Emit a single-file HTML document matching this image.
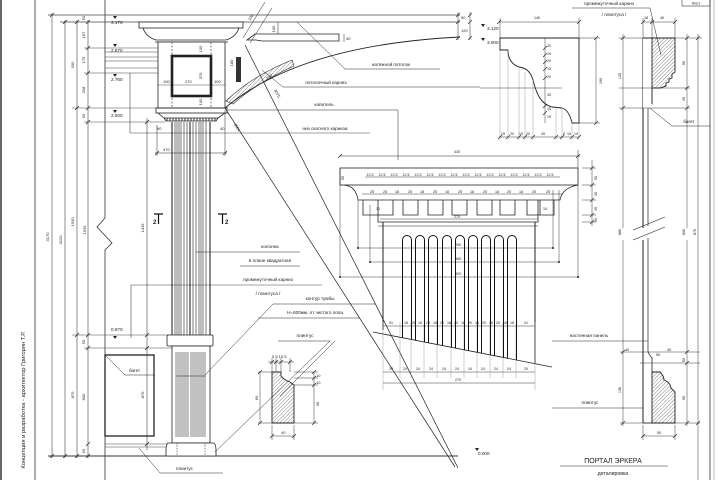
<!DOCTYPE html>
<html><head><meta charset="utf-8"><style>
html,body{margin:0;padding:0;background:#fff;}
svg{display:block;}
text{font-family:"Liberation Sans",sans-serif;fill:#222;}
.d{font-size:4px;}
.l{font-size:4.6px;}
</style></head><body>
<svg width="720" height="480" viewBox="0 0 720 480" xmlns="http://www.w3.org/2000/svg">
<defs>
<pattern id="h" width="2.6" height="2.6" patternUnits="userSpaceOnUse" patternTransform="rotate(45)">
<line x1="0" y1="0" x2="0" y2="2.6" stroke="#333" stroke-width="0.6"/></pattern>
</defs>
<rect width="720" height="480" fill="#fff"/>

<!-- FRAME -->
<g stroke="#333" fill="none">
<line x1="1" y1="0" x2="1" y2="480" stroke-width="1.5"/>
<line x1="35" y1="0" x2="35" y2="480" stroke-width="0.8"/>
<line x1="710" y1="0" x2="710" y2="480" stroke-width="0.8"/>
<line x1="714" y1="0" x2="714" y2="480" stroke="#bbb" stroke-width="1"/>
<rect x="682" y="-1" width="28" height="7" stroke-width="0.6"/>
</g>
<text x="696" y="4.5" class="d" text-anchor="middle">Лист</text>
<text transform="translate(25,400) rotate(-90)" text-anchor="middle" font-size="5.8">Концепция и разработка - архитектор Григорян Т.Р.</text>

<!-- LEFT DIMENSIONS -->
<g stroke="#444" stroke-width="0.6" fill="none">
<line x1="52" y1="13" x2="52" y2="458"/>
<line x1="65" y1="20" x2="65" y2="458"/>
<line x1="77" y1="20" x2="77" y2="458"/>
<line x1="88" y1="20" x2="88" y2="458"/>
<path d="M105,0 V218 L97,227 L112,243 L105,250 V480" stroke="#333" stroke-width="0.8"/>
<line x1="48" y1="15" x2="460" y2="15" stroke-width="0.8"/>
<line x1="60" y1="22" x2="460" y2="22" stroke-width="0.8"/>
<line x1="84" y1="48" x2="160" y2="48"/>
<line x1="105" y1="52" x2="158" y2="52"/>
<line x1="105" y1="57" x2="158" y2="57"/>
<line x1="105" y1="61" x2="158" y2="61"/>
<line x1="105" y1="68" x2="158" y2="68"/>
<line x1="84" y1="73" x2="158" y2="73"/>
<line x1="72" y1="108" x2="160" y2="108"/>
<line x1="84" y1="122" x2="165" y2="122"/>
<line x1="72" y1="335" x2="168" y2="335"/>
<line x1="84" y1="348" x2="172" y2="348"/>
<line x1="105" y1="444" x2="168" y2="444"/>
<line x1="105" y1="447" x2="168" y2="447"/>
<line x1="48" y1="456" x2="458" y2="456" stroke="#333" stroke-width="0.9"/>
<line x1="130" y1="73" x2="130" y2="133"/>
<line x1="130" y1="133" x2="370" y2="133"/>
<line x1="131" y1="285" x2="131" y2="338"/>
<line x1="131" y1="285" x2="322" y2="285"/>
<line x1="147" y1="118" x2="147" y2="450"/>
<path d="M50,17 l4,-4 M63,24 l4,-4 M75,24 l4,-4 M86,24 l4,-4 M86,50 l4,-4 M86,75 l4,-4 M75,110 l4,-4 M86,110 l4,-4 M86,124 l4,-4 M75,337 l4,-4 M86,337 l4,-4 M86,350 l4,-4 M86,446 l4,-4 M50,458 l4,-4 M63,458 l4,-4 M75,458 l4,-4 M86,458 l4,-4 M145,124 l4,-4 M145,337 l4,-4 M145,350 l4,-4 M145,446 l4,-4" stroke="#222" stroke-width="0.7"/>
</g>
<g class="d">
<text transform="translate(49,237) rotate(-90)" text-anchor="middle">3170</text>
<text transform="translate(62,240) rotate(-90)" text-anchor="middle">3120</text>
<text transform="translate(74,65) rotate(-90)" text-anchor="middle">500</text>
<text transform="translate(74,222) rotate(-90)" text-anchor="middle">1930</text>
<text transform="translate(74,395) rotate(-90)" text-anchor="middle">870</text>
<text transform="translate(85,18) rotate(-90)" text-anchor="middle">50</text>
<text transform="translate(85,35) rotate(-90)" text-anchor="middle">167</text>
<text transform="translate(85,60) rotate(-90)" text-anchor="middle">175</text>
<text transform="translate(85,90) rotate(-90)" text-anchor="middle">258</text>
<text transform="translate(85,116) rotate(-90)" text-anchor="middle">50</text>
<text transform="translate(86,230) rotate(-90)" text-anchor="middle">1535</text>
<text transform="translate(85,342) rotate(-90)" text-anchor="middle">50</text>
<text transform="translate(85,397) rotate(-90)" text-anchor="middle">800</text>
<text transform="translate(85,451) rotate(-90)" text-anchor="middle">50</text>
<text transform="translate(144,228) rotate(-90)" text-anchor="middle">1419</text>
<text transform="translate(144,395) rotate(-90)" text-anchor="middle">870</text>
</g>
<g fill="#222">
<path d="M113,16 l4,0 l-2,3 z M113,44 l4,0 l-2,3 z M113,74 l4,0 l-2,3 z M113,110 l4,0 l-2,3 z M113,336 l4,0 l-2,3 z M481,24 l4,0 l-2,3 z M481,38 l4,0 l-2,3 z M475,448 l4,0 l-2,3 z"/>
</g>
<g font-size="4.6px">
<text x="111" y="24">3.170</text>
<text x="111" y="52">2.870</text>
<text x="111" y="81">2.760</text>
<text x="111" y="117">2.500</text>
<text x="111" y="331">0.870</text>
<text x="487" y="30">3.120</text>
<text x="487" y="44">3.000</text>
<text x="478" y="455">0.000</text>
</g>

<!-- CAPITAL BLOCK -->
<g stroke="#222" stroke-width="0.8" fill="none">
<rect x="139" y="22" width="104" height="6" fill="#fff"/>
<path d="M143,28 Q146,37 156,40 L226,40 Q236,37 239,28"/>
<line x1="155" y1="42" x2="228" y2="42"/>
<rect x="158" y="42" width="67" height="66" fill="#fff"/>
<line x1="172" y1="42" x2="172" y2="108" stroke-dasharray="2,1.5" stroke-width="0.6"/>
<line x1="211" y1="42" x2="211" y2="108" stroke-dasharray="2,1.5" stroke-width="0.6"/>
<rect x="172" y="56" width="39" height="40" stroke-width="2.6"/>
<line x1="158" y1="85" x2="225" y2="85" stroke-width="0.4"/>
<rect x="156" y="108" width="71" height="5"/>
<path d="M158,113 L164,118 L218,118 L225,113"/>
<path d="M164,118 L166,121 L216,121 L218,118"/>
<path d="M167,118 v3 M170,118 v3 M173,118 v3 M176,118 v3 M179,118 v3 M182,118 v3 M185,118 v3 M188,118 v3 M191,118 v3 M194,118 v3 M197,118 v3 M200,118 v3 M203,118 v3 M206,118 v3 M209,118 v3 M212,118 v3 M215,118 v3" stroke-width="0.9"/>
<line x1="157" y1="125" x2="157" y2="156" stroke-width="0.5"/>
<line x1="225" y1="110" x2="225" y2="156" stroke-width="0.5"/>
<line x1="155" y1="153" x2="227" y2="153" stroke-width="0.5"/>
<path d="M155,155 l4,-4 M223,155 l4,-4" stroke-width="0.6"/>
<rect x="236" y="57" width="5" height="25" fill="#333" stroke="none"/>
</g>
<g class="d">
<text x="163" y="83">100</text><text x="185" y="83">270</text><text x="214" y="83">100</text>
<text transform="translate(202,49) rotate(-90)" text-anchor="middle">100</text>
<text transform="translate(202,76) rotate(-90)" text-anchor="middle">370</text>
<text transform="translate(202,102) rotate(-90)" text-anchor="middle">100</text>
<text transform="translate(233,63) rotate(-90)" text-anchor="middle">180</text>
<text x="163" y="151">470</text>
<text x="157" y="130">90</text><text x="220" y="130">40</text>
</g>

<!-- COLUMN SHAFT -->
<g stroke="#333" stroke-width="0.65">
<line x1="175" y1="122" x2="175" y2="335"/><line x1="177" y1="122" x2="177" y2="335"/>
<line x1="179" y1="122" x2="179" y2="335"/><line x1="181" y1="122" x2="181" y2="335"/>
<line x1="184" y1="122" x2="184" y2="335"/><line x1="187" y1="122" x2="187" y2="335"/>
<line x1="193" y1="122" x2="193" y2="335"/><line x1="196" y1="122" x2="196" y2="335"/>
<line x1="199" y1="122" x2="199" y2="335"/><line x1="201" y1="122" x2="201" y2="335"/>
<line x1="203" y1="122" x2="203" y2="335"/><line x1="206" y1="122" x2="206" y2="335"/>
</g>
<g stroke="#111" stroke-width="1">
<line x1="172" y1="122" x2="172" y2="335"/>
<line x1="190" y1="122" x2="190" y2="335"/>
<line x1="210" y1="122" x2="210" y2="335"/>
</g>
<g stroke="#111" stroke-width="1.2"><path d="M154,214 h9 M158.5,214 v10 M218,214 h9 M222.5,214 v10"/></g>
<text x="153" y="224" font-size="6" font-weight="bold">2</text>
<text x="225" y="224" font-size="6" font-weight="bold">2</text>

<!-- intermediate cornice + pedestal -->
<g stroke="#222" stroke-width="0.8" fill="#fff">
<rect x="167" y="335" width="46" height="11" rx="1.5"/>
<rect x="172" y="346" width="38" height="97"/>
<path d="M168,443 Q166,445 166,450 L166,456 L216,456 L216,450 Q216,445 214,443 Z"/>
</g>
<g stroke="#333" stroke-width="0.6">
<path d="M176,352 V437 M178,352 V437 M180,352 V437 M182,352 V437 M184,352 V437 M186,352 V437 M188,352 V437 M191,352 V437 M193,352 V437 M195,352 V437 M197,352 V437 M199,352 V437 M201,352 V437 M203,352 V437 M205,352 V437"/>
<path d="M176,376 H206" stroke="#222"/>
<path d="M177,443 V456 M205,443 V456" stroke-dasharray="1.5,1"/>
</g>
<g stroke="#222" fill="none">
<rect x="105" y="355" width="49" height="81" stroke-width="1.3"/>
<path d="M105,355 L125,375 H155" stroke-width="0.5"/>
<path d="M139,448 L160,473 H223" stroke-width="0.5"/>
</g>
<text x="129" y="372" class="l">багет</text>
<text x="176" y="470" class="l">плинтус</text>

<!-- ARC & ceiling -->
<g stroke="#222" fill="none">
<path d="M225,108 Q300,45 460,37" stroke-width="0.9"/>
<path d="M226,101 Q252,76 292,60 L294,66 Q258,82 233,104 Z" fill="url(#h)" stroke-width="0.6"/>
<path d="M247,40 L255,34 H339 V41 H262 L256,40 Z" stroke-width="0.8"/>
<line x1="278" y1="22" x2="278" y2="34" stroke-width="0.5"/>
<line x1="458" y1="12" x2="458" y2="40" stroke-width="0.5"/>
<line x1="470" y1="12" x2="470" y2="40" stroke-width="0.5"/>
<path d="M456,17 l4,-4 M456,24 l4,-4 M456,40 l4,-4 M468,17 l4,-4 M468,24 l4,-4 M468,40 l4,-4" stroke-width="0.6"/>
<line x1="344" y1="34" x2="344" y2="42" stroke-width="0.5"/>
<line x1="243" y1="38" x2="265" y2="2" stroke-width="0.5"/>
<line x1="250" y1="43" x2="272" y2="8" stroke-width="0.5"/>
<line x1="225" y1="108" x2="455" y2="467" stroke-width="0.7"/>
<line x1="245" y1="45" x2="458" y2="468" stroke-width="0.7"/>
<path d="M297,22 L345,69 H440" stroke-width="0.5"/>
<path d="M262,70 L283,87 H480" stroke-width="0.5"/>
<path d="M228,110 H398 V160" stroke-width="0.5"/>
<path d="M196,252 H300" stroke-width="0.5"/>
<path d="M240,266 H300" stroke-width="0.5"/>
<path d="M205,375 L273,304 H375" stroke-width="0.5"/>
<path d="M258,318 H360" stroke-width="0.5"/>
<path d="M215,452 L330,341 H278" stroke-width="0.5"/>
<path d="M280,396 L335,341" stroke-width="0.5"/>
</g>
<g class="d">
<text transform="translate(275,29) rotate(-90)" text-anchor="middle">100</text>
<text x="461" y="19">50</text><text x="461" y="32">120</text>
<text x="346" y="40">30</text>
<text transform="translate(252,18) rotate(-58)" text-anchor="middle">100</text>
<text transform="translate(236,128) rotate(57)" text-anchor="middle">4501</text>
<text transform="translate(276,94) rotate(62)" text-anchor="middle">3075</text>
<text transform="translate(270,78) rotate(-38)" text-anchor="middle">220</text>
</g>
<g class="l" text-anchor="middle">
<text x="391" y="66">натяжной потолок</text>
<text x="326" y="84">потолочный карниз</text>
<text x="324" y="106">капитель</text>
<text x="325" y="130">низ скатного карниза</text>
<text x="270" y="248">колонна</text>
<text x="270" y="262">в плане квадратная</text>
<text x="268" y="281">промежуточный карниз</text>
<text x="268" y="295">/ плинтуса /</text>
<text x="320" y="300">контур тумбы</text>
<text x="315" y="314">Н=600мм. от чистого пола</text>
<text x="305" y="337">плинтус</text>
</g>

<!-- PLINTH DETAIL -->
<g stroke="#222" fill="none">
<path d="M272,372 H281 V376 Q284,380 290,382 L294,385 V423 H272 Z" fill="url(#h)" stroke-width="0.9"/>
<path d="M260,372 V423 M258,372 H272 M258,423 H272 M314,372 V423 M294,372 H318 M294,378 H318 M294,385 H318 M294,423 H318 M272,436 H294 M272,425 V440 M294,425 V440 M268,362 H294 M272,358 V372 M276,358 V372 M281,358 V372 M290,358 V372" stroke-width="0.45"/>
<path d="M258,374 l4,-4 M258,425 l4,-4 M312,374 l4,-4 M312,380 l4,-4 M312,387 l4,-4 M312,425 l4,-4 M270,438 l4,-4 M292,438 l4,-4 M270,364 l4,-4 M274,364 l4,-4 M279,364 l4,-4 M288,364 l4,-4" stroke-width="0.6"/>
</g>
<g class="d">
<text transform="translate(258,398) rotate(-90)" text-anchor="middle">60</text>
<text x="281" y="434">40</text>
<text x="272" y="358">5 5 15 5</text>
<text x="316" y="377">10</text><text x="316" y="384">10</text>
<text transform="translate(319,404) rotate(-90)" text-anchor="middle">40</text>
</g>

<!-- ENTABLATURE DETAIL -->
<g stroke="#222" fill="none" stroke-width="0.8">
<line x1="340" y1="156" x2="580" y2="156" stroke-width="0.5"/>
<path d="M338,158 l4,-4 M576,158 l4,-4" stroke-width="0.6"/>
<line x1="578" y1="150" x2="578" y2="168" stroke-width="0.5"/>
<rect x="340" y="168" width="238" height="17" fill="#fff"/>
<path d="M344,185 Q356,186 358,200 H560 Q562,188 578,185"/>
<path d="M363,200 V215 H393 V200 M403,200 V215 H418 V200 M428,200 V215 H443 V200 M452,200 V215 H467 V200 M477,200 V215 H492 V200 M500,200 V215 H515 V200 M527,200 V215 H554 V200 M540,200 V215"/>
<path d="M378,200 V222 H538 V200" />
<line x1="378" y1="226" x2="538" y2="226" stroke-width="0.5"/>
<line x1="383" y1="222" x2="383" y2="330" stroke-width="1"/>
<line x1="535" y1="222" x2="535" y2="364" stroke-width="1"/>
<line x1="373" y1="332" x2="552" y2="367" stroke-width="0.8"/>
<path d="M340,168 V278 M358,200 V248 M370,205 V262 M553,190 V248 M559,190 V262 M578,185 V278 M358,248 H553 M370,262 H559 M340,277 H578" stroke-width="0.45"/>
<path d="M592,160 V226 M582,168 H596 M582,185 H596 M582,200 H596 M582,215 H596 M582,222 H596" stroke-width="0.45"/>
<path d="M590,170 l4,-4 M590,187 l4,-4 M590,202 l4,-4 M590,217 l4,-4 M590,224 l4,-4" stroke-width="0.6"/>
<path d="M365,177 H560 M362,194 H562 M380,219 H538 M383,326 H535 M383,372 H535 M383,383 H535" stroke-width="0.45"/>
<path d="M383,322 V390 M400,322 V378 M411,322 V378 M424,322 V378 M437,322 V378 M451,322 V378 M464,322 V378 M477,322 V378 M490,322 V378 M503,322 V378 M516,322 V378 M535,322 V390" stroke="#888" stroke-width="0.4"/>
</g>
<g fill="#222">
<circle cx="553" cy="248" r="1"/><circle cx="559" cy="262" r="1"/><circle cx="578" cy="277" r="1"/><circle cx="340" cy="277" r="1"/><circle cx="358" cy="248" r="1"/><circle cx="370" cy="262" r="1"/>
</g>
<g stroke="#111" stroke-width="1" fill="none">
<path d="M402.5,337.8 V240 A4.5,4.5 0 0 1 411.5,240 V339.5"/>
<path d="M415.5,340.3 V240 A4.5,4.5 0 0 1 424.5,240 V342.1"/>
<path d="M428.5,342.9 V240 A4.5,4.5 0 0 1 437.5,240 V344.6"/>
<path d="M442.5,345.6 V240 A4.5,4.5 0 0 1 451.5,240 V347.3"/>
<path d="M455.5,348.1 V240 A4.5,4.5 0 0 1 464.5,240 V349.9"/>
<path d="M468.5,350.7 V240 A4.5,4.5 0 0 1 477.5,240 V352.4"/>
<path d="M481.5,353.2 V240 A4.5,4.5 0 0 1 490.5,240 V355.0"/>
<path d="M494.5,355.8 V240 A4.5,4.5 0 0 1 503.5,240 V357.5"/>
<path d="M507.5,358.3 V240 A4.5,4.5 0 0 1 516.5,240 V360.1"/>
</g>
<g font-size="3.6px" text-anchor="middle">
<text x="457" y="153">430</text>
<text x="457" y="218">270</text>
<text x="458" y="246">265</text><text x="458" y="260">365</text><text x="458" y="275">400</text>
<text x="370" y="176">12.5</text><text x="382" y="176">12.5</text><text x="394" y="176">12.5</text><text x="406" y="176">12.5</text>
<text x="418" y="176">12.5</text><text x="430" y="176">12.5</text><text x="442" y="176">12.5</text><text x="454" y="176">12.5</text>
<text x="466" y="176">12.5</text><text x="478" y="176">12.5</text><text x="490" y="176">12.5</text><text x="502" y="176">12.5</text>
<text x="514" y="176">12.5</text><text x="526" y="176">12.5</text><text x="538" y="176">12.5</text><text x="550" y="176">12.5</text>
<text x="372" y="193">25</text><text x="385" y="193">25</text><text x="397" y="193">18</text><text x="410" y="193">25</text>
<text x="422" y="193">18</text><text x="435" y="193">25</text><text x="447" y="193">18</text><text x="460" y="193">25</text>
<text x="472" y="193">18</text><text x="485" y="193">25</text><text x="497" y="193">18</text><text x="509" y="193">25</text>
<text x="521" y="193">18</text><text x="534" y="193">25</text><text x="548" y="193">25</text>
<text x="378" y="210">10</text><text x="545" y="210">10</text>
<text x="391" y="324">31</text><text x="406" y="324">16</text><text x="413" y="324">15</text><text x="420" y="324">16</text><text x="428" y="324">20</text><text x="435" y="324">16</text><text x="442" y="324">20</text><text x="449" y="324">16</text><text x="456" y="324">20</text><text x="463" y="324">16</text><text x="470" y="324">20</text><text x="477" y="324">16</text><text x="484" y="324">20</text><text x="491" y="324">16</text><text x="498" y="324">20</text><text x="505" y="324">16</text><text x="512" y="324">18</text><text x="526" y="324">31</text>
<text x="391" y="370">20</text><text x="405" y="370">24</text><text x="418" y="370">24</text><text x="431" y="370">24</text><text x="444" y="370">24</text><text x="457" y="370">24</text><text x="470" y="370">24</text><text x="483" y="370">24</text><text x="496" y="370">24</text><text x="509" y="370">24</text><text x="526" y="370">20</text>
<text x="458" y="381">270</text>
<text transform="translate(344,178) rotate(-90)">50</text>
<text transform="translate(597,178) rotate(-90)">50</text><text transform="translate(597,194) rotate(-90)">30</text><text transform="translate(597,209) rotate(-90)">45</text><text transform="translate(597,220) rotate(-90)">10</text>
</g>

<!-- CORNICE PROFILE DETAIL -->
<g stroke="#222" fill="none">
<path d="M500,38 H579 V123 H572 Q569,110 562,108 L552,107 C540,104 536,92 533,80 C530,70 525,68 519,67 Q508,63 508,50 H500 Z" stroke-width="0.9"/>
<line x1="499" y1="22" x2="579" y2="22" stroke-width="0.45"/>
<path d="M500,18 V38 M579,18 V38" stroke-width="0.45"/>
<path d="M497,24 l4,-4 M577,24 l4,-4" stroke-width="0.6"/>
<line x1="596" y1="38" x2="596" y2="123" stroke-width="0.45"/>
<path d="M579,38 H600 M579,123 H600" stroke-width="0.45"/>
<path d="M594,40 l4,-4 M594,125 l4,-4" stroke-width="0.6"/>
<line x1="545" y1="38" x2="545" y2="123" stroke-width="0.45"/>
<path d="M543,50 l4,-4 M543,57 l4,-4 M543,64 l4,-4 M543,71 l4,-4 M543,80 l4,-4 M543,108 l4,-4 M543,115 l4,-4" stroke-width="0.6"/>
<line x1="480" y1="88" x2="562" y2="88" stroke-width="0.45"/>
<line x1="499" y1="137" x2="579" y2="137" stroke-width="0.45"/>
<path d="M500,50 V140 M508,50 V140 M519,67 V140 M525,72 V140 M533,80 V140 M556,107 V140 M562,108 V140 M572,120 V140 M579,123 V140" stroke="#888" stroke-width="0.4"/>
<path d="M498,139 l4,-4 M506,139 l4,-4 M517,139 l4,-4 M523,139 l4,-4 M531,139 l4,-4 M554,139 l4,-4 M560,139 l4,-4 M570,139 l4,-4 M577,139 l4,-4" stroke-width="0.6"/>
</g>
<g font-size="3.6px">
<text x="534" y="19">140</text>
<text transform="translate(602,84) rotate(-90)">190</text>
<text x="501" y="135">15</text><text x="510" y="135">20</text><text x="519" y="135">15</text><text x="526" y="135">20</text>
<text x="541" y="135">45</text><text x="563" y="135">8</text><text x="567" y="135">15</text><text x="574" y="135">10</text>
<text x="547" y="47">20</text><text x="547" y="55">15</text><text x="547" y="62">20</text><text x="547" y="70">15</text><text x="547" y="78">20</text><text x="547" y="96">45</text><text x="547" y="110">15</text><text x="547" y="118">10</text>
</g>

<!-- RIGHT SECTION -->
<g stroke="#222" fill="none">
<line x1="643" y1="38" x2="643" y2="228" stroke-width="1"/>
<line x1="643" y1="240" x2="643" y2="423" stroke-width="1"/>
<line x1="648" y1="108" x2="648" y2="226" stroke-width="0.7"/>
<line x1="648" y1="238" x2="648" y2="352" stroke-width="0.7"/>
<path d="M643,38 H675 V72 L672,74 V78 L669,79 V82 L666,83 V86 L660,88 H652 V104 Q650,107 648,108" fill="url(#h)" stroke-width="0.9"/>
<rect x="643" y="38" width="9" height="70" fill="#fff" stroke="none"/>
<line x1="643" y1="38" x2="675" y2="38" stroke-width="0.9"/>
<path d="M652,38 V104" stroke-width="0.9"/>
<path d="M652,372 H660 Q664,376 664,380 Q670,382 671,388 L675,392 V423 H652 Z" fill="url(#h)" stroke-width="0.9"/>
<path d="M643,423 H652 M648,352 Q650,356 652,358 V372" stroke-width="0.8"/>
<path d="M633,230 L665,217 M633,240 L665,227" stroke-width="0.6"/>
<path d="M623,34 V228 M623,240 V426 M687,34 V228 M687,240 V426 M698,34 V480" stroke-width="0.45"/>
<path d="M619,38 H702 M619,88 H690 M619,108 H690 M620,352 H700 M640,363 H700 M620,423 H700 M643,22 H675 M643,18 V38 M652,18 V38 M675,18 V38 M643,436 H675 M643,425 V440 M675,425 V440" stroke-width="0.45"/>
<path d="M621,40 l4,-4 M621,110 l4,-4 M685,40 l4,-4 M685,90 l4,-4 M685,110 l4,-4 M696,40 l4,-4 M641,24 l4,-4 M650,24 l4,-4 M673,24 l4,-4 M621,354 l4,-4 M685,354 l4,-4 M685,365 l4,-4 M621,425 l4,-4 M685,425 l4,-4 M696,425 l4,-4 M641,438 l4,-4 M673,438 l4,-4" stroke-width="0.6"/>
<path d="M650,108 L672,126 H710" stroke-width="0.5"/>
<path d="M572,8 H650 L661,55" stroke-width="0.5"/>
<path d="M552,341 H648 M552,408 H643" stroke-width="0.5"/>
<line x1="560" y1="466" x2="668" y2="466" stroke-width="0.6"/>
</g>
<g font-size="3.8px">
<text x="644" y="19">18</text><text x="660" y="19">40</text>
<text transform="translate(621,76) rotate(-90)" text-anchor="middle">125</text>
<text transform="translate(685,63) rotate(-90)" text-anchor="middle">90</text>
<text transform="translate(685,99) rotate(-90)" text-anchor="middle">45</text>
<text transform="translate(621,232) rotate(-90)" text-anchor="middle">880</text>
<text transform="translate(685,232) rotate(-90)" text-anchor="middle">800</text>
<text transform="translate(696,232) rotate(-90)" text-anchor="middle">870</text>
<text transform="translate(621,390) rotate(-90)" text-anchor="middle">135</text>
<text transform="translate(685,360) rotate(-90)" text-anchor="middle">50</text>
<text transform="translate(685,398) rotate(-90)" text-anchor="middle">90</text>
<text x="625" y="351">40</text><text x="667" y="351">40</text><text x="656" y="356">50</text>
<text x="657" y="434">50</text>
</g>
<g class="l" text-anchor="middle">
<text x="609" y="5">промежуточный карниз</text>
<text x="614" y="16">/ плинтуса /</text>
<text x="689" y="123">багет</text>
<text x="589" y="337">настенная панель</text>
<text x="590" y="404">плинтус</text>
</g>
<text x="613" y="463" text-anchor="middle" font-size="7px">ПОРТАЛ ЭРКЕРА</text>
<text x="613" y="475" text-anchor="middle" font-size="5.2px">деталировка</text>
</svg>
</body></html>
